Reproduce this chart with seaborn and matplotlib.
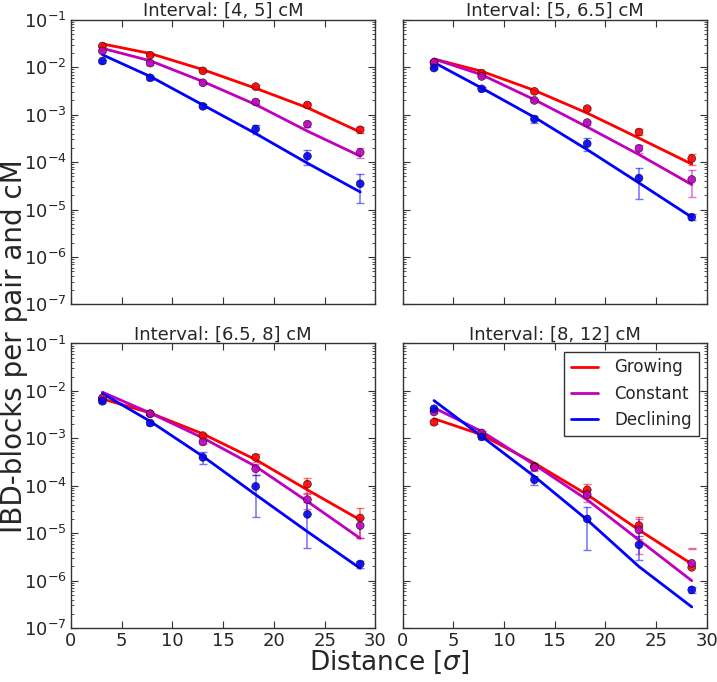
import numpy as np
import pandas as pd
import matplotlib
matplotlib.use("Agg")
import matplotlib.pyplot as plt
import seaborn as sns
from matplotlib.ticker import LogLocator, NullFormatter

# distance bins (in sigma)
dist = [3.1, 7.8, 13.0, 18.2, 23.3, 28.5]
scenarios = ["Growing", "Constant", "Declining"]
intervals = ["Interval: [4, 5] cM", "Interval: [5, 6.5] cM",
             "Interval: [6.5, 8] cM", "Interval: [8, 12] cM"]

# observed block densities, per interval: growing / constant / declining
obs_growing = [
    [2.8e-2, 1.8e-2, 8.4e-3, 3.9e-3, 1.6e-3, 4.8e-4],
    [1.26e-2, 7.5e-3, 3.1e-3, 1.34e-3, 4.3e-4, 1.19e-4],
    [6.8e-3, 3.3e-3, 1.14e-3, 3.97e-4, 1.08e-4, 2.1e-5],
    [2.18e-3, 1.19e-3, 2.56e-4, 8.2e-5, 1.45e-5, 1.91e-6],
]
obs_constant = [
    [2.2e-2, 1.22e-2, 4.7e-3, 1.85e-3, 6.3e-4, 1.6e-4],
    [1.26e-2, 6.4e-3, 2.0e-3, 6.8e-4, 1.95e-4, 4.3e-5],
    [7.1e-3, 3.3e-3, 8.4e-4, 2.29e-4, 5.1e-5, 1.45e-5],
    [3.6e-3, 1.3e-3, 2.44e-4, 6.5e-5, 1.17e-5, 2.32e-6],
]
obs_declining = [
    [1.35e-2, 6.0e-3, 1.5e-3, 5.0e-4, 1.33e-4, 3.5e-5],
    [9.6e-3, 3.5e-3, 8.1e-4, 2.45e-4, 4.6e-5, 6.9e-6],
    [6.05e-3, 2.1e-3, 3.97e-4, 9.7e-5, 2.5e-5, 2.25e-6],
    [4.2e-3, 1.07e-3, 1.34e-4, 2.0e-5, 5.7e-6, 6.4e-7],
]

# standard errors of the observed values
err_growing = [
    [1.5e-3, 1.0e-3, 4e-4, 2.5e-4, 1.4e-4, 6e-5],
    [8e-4, 5e-4, 2e-4, 1e-4, 6e-5, 3e-5],
    [4e-4, 2.5e-4, 1.2e-4, 8e-5, 4e-5, 1.3e-5],
    [2e-4, 1.2e-4, 4e-5, 2.8e-5, 7e-6, 2.9e-6],
]
err_constant = [
    [1.3e-3, 8e-4, 3e-4, 1.5e-4, 8e-5, 4e-5],
    [8e-4, 4e-4, 1.5e-4, 7e-5, 4e-5, 2.5e-5],
    [4e-4, 2e-4, 9e-5, 6e-5, 1.8e-5, 6.6e-6],
    [2.5e-4, 1e-4, 3.5e-5, 2e-5, 8e-6, 2.4e-6],
]
err_declining = [
    [1e-3, 5e-4, 1.5e-4, 1e-4, 4.5e-5, 2.1e-5],
    [6e-4, 3e-4, 1.4e-4, 7.5e-5, 2.9e-5, 1e-6],
    [4e-4, 2e-4, 1.1e-4, 7.5e-5, 2.0e-5, 4e-7],
    [2.5e-4, 8e-5, 3e-5, 1.55e-5, 3e-6, 1e-7],
]

# model fits
fit_growing = [
    [3.1e-2, 1.95e-2, 8.9e-3, 3.6e-3, 1.4e-3, 4.3e-4],
    [1.49e-2, 8.2e-3, 3.25e-3, 1.08e-3, 3.2e-4, 9.1e-5],
    [6.8e-3, 3.43e-3, 1.24e-3, 3.55e-4, 8.2e-5, 1.91e-5],
    [2.6e-3, 1.19e-3, 3.0e-4, 6.5e-5, 1.17e-5, 2.25e-6],
]
fit_constant = [
    [2.5e-2, 1.37e-2, 5.0e-3, 1.63e-3, 4.5e-4, 1.34e-4],
    [1.49e-2, 6.95e-3, 2.07e-3, 5.5e-4, 1.44e-4, 3.36e-5],
    [9.4e-3, 3.43e-3, 1.02e-3, 2.56e-4, 4.67e-5, 7.8e-6],
    [4.4e-3, 1.4e-3, 2.78e-4, 5.06e-5, 7.2e-6, 1.0e-6],
]
fit_declining = [
    [1.83e-2, 6.4e-3, 1.6e-3, 4.0e-4, 9.5e-5, 2.35e-5],
    [1.26e-2, 3.64e-3, 8.8e-4, 1.83e-4, 3.64e-5, 6.9e-6],
    [8.8e-3, 2.29e-3, 4.17e-4, 6.5e-5, 1.08e-5, 1.82e-6],
    [6.25e-3, 1.1e-3, 1.57e-4, 1.91e-5, 1.98e-6, 2.8e-7],
]

colors = {"Growing": "r", "Constant": "m", "Declining": "b"}

obs = {"Growing": obs_growing, "Constant": obs_constant, "Declining": obs_declining}
errs = {"Growing": err_growing, "Constant": err_constant, "Declining": err_declining}
fits = {"Growing": fit_growing, "Constant": fit_constant, "Declining": fit_declining}

sns.set_style("ticks", {"xtick.direction": "in", "ytick.direction": "in"})
plt.rcParams["font.family"] = ["DejaVu Sans"]
plt.rcParams["mathtext.fontset"] = "dejavusans"

fig, axes = plt.subplots(2, 2, figsize=(7.17, 6.82), dpi=100, sharex=True, sharey=True)
fig.subplots_adjust(left=0.099, right=0.986, bottom=0.079, top=0.971,
                    wspace=0.089, hspace=0.137)

for i, ax in enumerate(axes.flat):
    rows = []
    for s in scenarios:
        for d, f in zip(dist, fits[s][i]):
            rows.append({"dist": d, "val": f, "scenario": s})
    fit_df = pd.DataFrame(rows)
    sns.lineplot(data=fit_df, x="dist", y="val", hue="scenario", palette=colors,
                 estimator=None, sort=False, linewidth=2, ax=ax,
                 legend=(i == 3), zorder=2)

    for s in scenarios:
        y = np.array(obs[s][i])
        e = np.array(errs[s][i])
        # lower ends that would fall below zero are not drawn on the log axis
        lo = np.where(y - e > 0, e, np.nan)
        ax.errorbar(dist, y, yerr=[lo, e], fmt="none", ecolor=colors[s],
                    elinewidth=1.1, capsize=3, capthick=1, alpha=0.55, zorder=3)

    pts = pd.DataFrame([{"dist": d, "val": v, "scenario": s}
                        for s in scenarios for d, v in zip(dist, obs[s][i])])
    sns.scatterplot(data=pts, x="dist", y="val", hue="scenario", palette=colors,
                    s=32, edgecolor="k", linewidth=0.4, alpha=0.9, ax=ax,
                    legend=False, zorder=4)

    ax.set_yscale("log")
    ax.set_ylim(1e-7, 1e-1)
    ax.set_xlim(0, 30)
    ax.set_xticks([0, 5, 10, 15, 20, 25, 30])
    ax.yaxis.set_major_locator(LogLocator(base=10, numticks=10))
    ax.yaxis.set_minor_locator(LogLocator(base=10, subs=np.arange(2, 10), numticks=20))
    ax.yaxis.set_minor_formatter(NullFormatter())
    ax.tick_params(which="both", direction="in", top=True, right=True,
                   labelsize=13, color="0.2", pad=3)
    ax.tick_params(which="major", length=5, width=0.8)
    ax.tick_params(which="minor", length=2.5, width=0.6)
    for sp in ax.spines.values():
        sp.set_color("0.2")
        sp.set_linewidth(1)
    ax.set_title(intervals[i], fontsize=13, pad=3)
    ax.set_xlabel("")
    ax.set_ylabel("")

leg = axes[1, 1].legend(loc="upper right", fontsize=12, frameon=True, fancybox=False,
                        edgecolor="k", handlelength=1.6, handletextpad=1.0,
                        borderaxespad=0.5)
leg.get_frame().set_linewidth(1)
for h in leg.get_lines():
    h.set_linewidth(2)

fig.text(0.5425, 0.029, "Distance [$\\sigma$]", ha="center", va="center", fontsize=19)
fig.text(0.02, 0.493, "IBD-blocks per pair and cM", ha="center", va="center",
         rotation=90, fontsize=20)

fig.savefig("out.png", dpi=100)
